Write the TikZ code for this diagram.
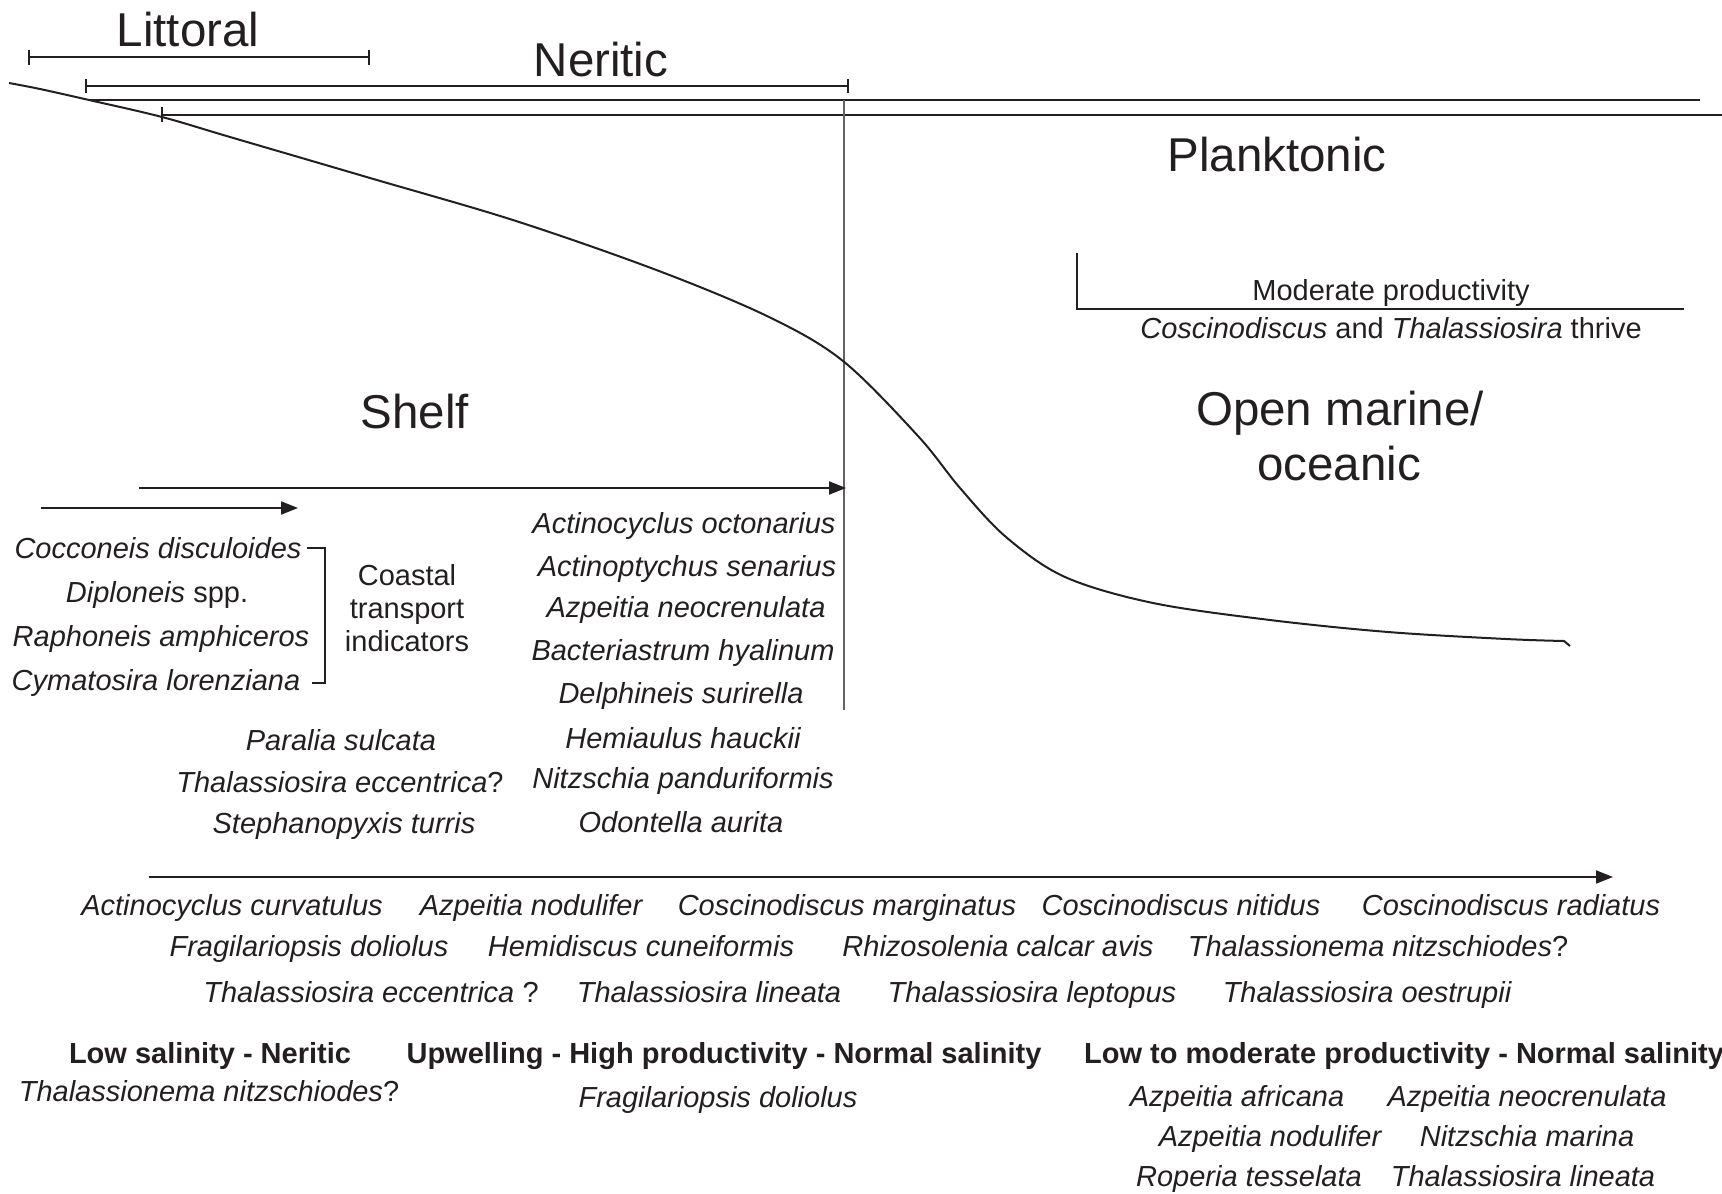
\documentclass[tikz,border=0pt]{standalone}
\usepackage{fontspec}
\setmainfont{Liberation Sans}
\usetikzlibrary{arrows.meta}
\definecolor{ink}{RGB}{35,31,32}
\begin{document}
\begin{tikzpicture}[x=1pt,y=-1pt,
  line/.style={draw=ink,line width=2.3pt},
  thinline/.style={draw=ink!70,line width=1.1pt},
  boxline/.style={draw=ink,line width=1.3pt},
  arr/.style={draw=ink,line width=2pt,-{Triangle[length=17pt,width=13pt]}},
  big/.style={font=\fontsize{47.5}{52}\selectfont,anchor=base,inner sep=0pt,text=ink},
  sp/.style={font=\fontsize{29}{34}\selectfont\itshape,anchor=base,inner sep=0pt,text=ink},
  rm/.style={font=\fontsize{29}{34}\selectfont,anchor=base,inner sep=0pt,text=ink},
  hdr/.style={font=\fontsize{29}{34}\selectfont\bfseries,anchor=base,inner sep=0pt,text=ink}]
\useasboundingbox (0,0) rectangle (1722,1194);

% zone brackets
\coordinate (litL) at (29,57);  \coordinate (litR) at (369,57);
\coordinate (nerL) at (86,86);  \coordinate (nerR) at (848,86);
\draw[line] (litL) -- (litR);
\draw[line] ([yshift=-8pt]litL) -- ([yshift=7pt]litL);
\draw[line] ([yshift=-8pt]litR) -- ([yshift=7pt]litR);
\draw[line] (nerL) -- (nerR);
\draw[line] ([yshift=-7pt]nerL) -- ([yshift=7pt]nerL);
\draw[line] ([yshift=-7pt]nerR) -- ([yshift=7pt]nerR);

% horizontal lines
\coordinate (h1L) at (89,100);  \coordinate (h1R) at (1700,100);
\coordinate (h2L) at (162,115); \coordinate (h2R) at (1722,115);
\draw[line] (h1L) -- (h1R);
\draw[line] (h2L) -- (h2R);
\draw[line] ([yshift=-7pt]h2L) -- ([yshift=8pt]h2L);

% vertical shelf break line
\coordinate (vT) at (844,100); \coordinate (vB) at (844,710);
\draw[thinline] (vT) -- (vB);

% seafloor profile
\draw[line,line width=2pt] plot[smooth,tension=0.55] coordinates {
 (9,83) (40,89) (89,100) (162,117) (230,137) (370,178) (516,221) (659,271)
 (769,317) (843,361) (918,436) (960,488) (1006,537) (1065,577) (1153,603) (1270,620)
 (1388,632) (1506,639) (1564,641)} -- (1570,646);

% labels
\node[big] (littoral) at (188,46) {Littoral};
\node[big] (neritic) at (601,76) {Neritic};
\node[big] (planktonic) at (1277,171) {Planktonic};
\node[big] (shelf) at (415,428) {Shelf};
\node[big] (open1) at (1340,425) {Open marine/};
\node[big] (open2) at (1339,480) {oceanic};

% moderate productivity box
\coordinate (mT) at (1077,253); \coordinate (mC) at (1077,309); \coordinate (mR) at (1684,309);
\draw[boxline] (mT) -- (mC) -- (mR);
\node[rm] (modprod) at (1391,300) {Moderate productivity};
\node[rm] (thrive) at (1391,338) {\textit{Coscinodiscus} and \textit{Thalassiosira} thrive};

% arrows
\coordinate (a1s) at (41,508);  \coordinate (a1e) at (298,508);
\coordinate (a2s) at (139,488); \coordinate (a2e) at (846,488);
\coordinate (a3s) at (149,877); \coordinate (a3e) at (1613,877);
\draw[arr] (a1s) -- (a1e);
\draw[arr] (a2s) -- (a2e);
\draw[arr] (a3s) -- (a3e);

% coastal group
\node[sp] (coc) at (158,558) {Cocconeis disculoides};
\node[sp] (dip) at (157,602) {Diploneis \upshape spp.};
\node[sp] (rap) at (161,646) {Raphoneis amphiceros};
\node[sp] (cym) at (156,690) {Cymatosira lorenziana};
\coordinate (bT) at (307,548); \coordinate (bTR) at (325,548);
\coordinate (bBR) at (325,683); \coordinate (bB) at (312,683);
\draw[ink,line width=1.8pt] (bT) -- (bTR) -- (bBR) -- (bB);
\node[rm] (coast1) at (407,585) {Coastal};
\node[rm] (coast2) at (407,618) {transport};
\node[rm] (coast3) at (407,651) {indicators};

% neritic column
\node[sp] (m1) at (684,533) {Actinocyclus octonarius};
\node[sp] (m2) at (687,576) {Actinoptychus senarius};
\node[sp] (m3) at (686,617) {Azpeitia neocrenulata};
\node[sp] (m4) at (683,660) {Bacteriastrum hyalinum};
\node[sp] (m5) at (681,703) {Delphineis surirella};
\node[sp] (m6) at (683,748) {Hemiaulus hauckii};
\node[sp] (m7) at (683,788) {Nitzschia panduriformis};
\node[sp] (m8) at (681,832) {Odontella aurita};

\node[sp] (l1) at (341,750) {Paralia sulcata};
\node[sp] (l2) at (340,792) {Thalassiosira eccentrica\upshape ?};
\node[sp] (l3) at (344,833) {Stephanopyxis turris};

% oceanic list
\node[sp] (r11) at (232,915) {Actinocyclus curvatulus};
\node[sp] (r12) at (531,915) {Azpeitia nodulifer};
\node[sp] (r13) at (847,915) {Coscinodiscus marginatus};
\node[sp] (r14) at (1181,915) {Coscinodiscus nitidus};
\node[sp] (r15) at (1511,915) {Coscinodiscus radiatus};
\node[sp] (r21) at (309,956) {Fragilariopsis doliolus};
\node[sp] (r22) at (641,956) {Hemidiscus cuneiformis};
\node[sp] (r23) at (998,956) {Rhizosolenia calcar avis};
\node[sp] (r24) at (1378,956) {Thalassionema nitzschiodes\upshape ?};
\node[sp] (r31) at (371,1002) {Thalassiosira eccentrica\upshape\ ?};
\node[sp] (r32) at (709,1002) {Thalassiosira lineata};
\node[sp] (r33) at (1032,1002) {Thalassiosira leptopus};
\node[sp] (r34) at (1367,1002) {Thalassiosira oestrupii};

% environment headers
\node[hdr] (h1) at (210,1063) {Low salinity - Neritic};
\node[hdr] (h2) at (724,1063) {Upwelling - High productivity - Normal salinity};
\node[hdr,anchor=base west] (h3) at (1084,1063) {Low to moderate productivity - Normal salinity};

\node[sp] (e1) at (209,1101) {Thalassionema nitzschiodes\upshape ?};
\node[sp] (e2) at (718,1107) {Fragilariopsis doliolus};
\node[sp] (e3) at (1237,1106) {Azpeitia africana};
\node[sp] (e4) at (1527,1106) {Azpeitia neocrenulata};
\node[sp] (e5) at (1270,1146) {Azpeitia nodulifer};
\node[sp] (e6) at (1527,1146) {Nitzschia marina};
\node[sp] (e7) at (1249,1186) {Roperia tesselata};
\node[sp] (e8) at (1523,1186) {Thalassiosira lineata};
\end{tikzpicture}
\end{document}
